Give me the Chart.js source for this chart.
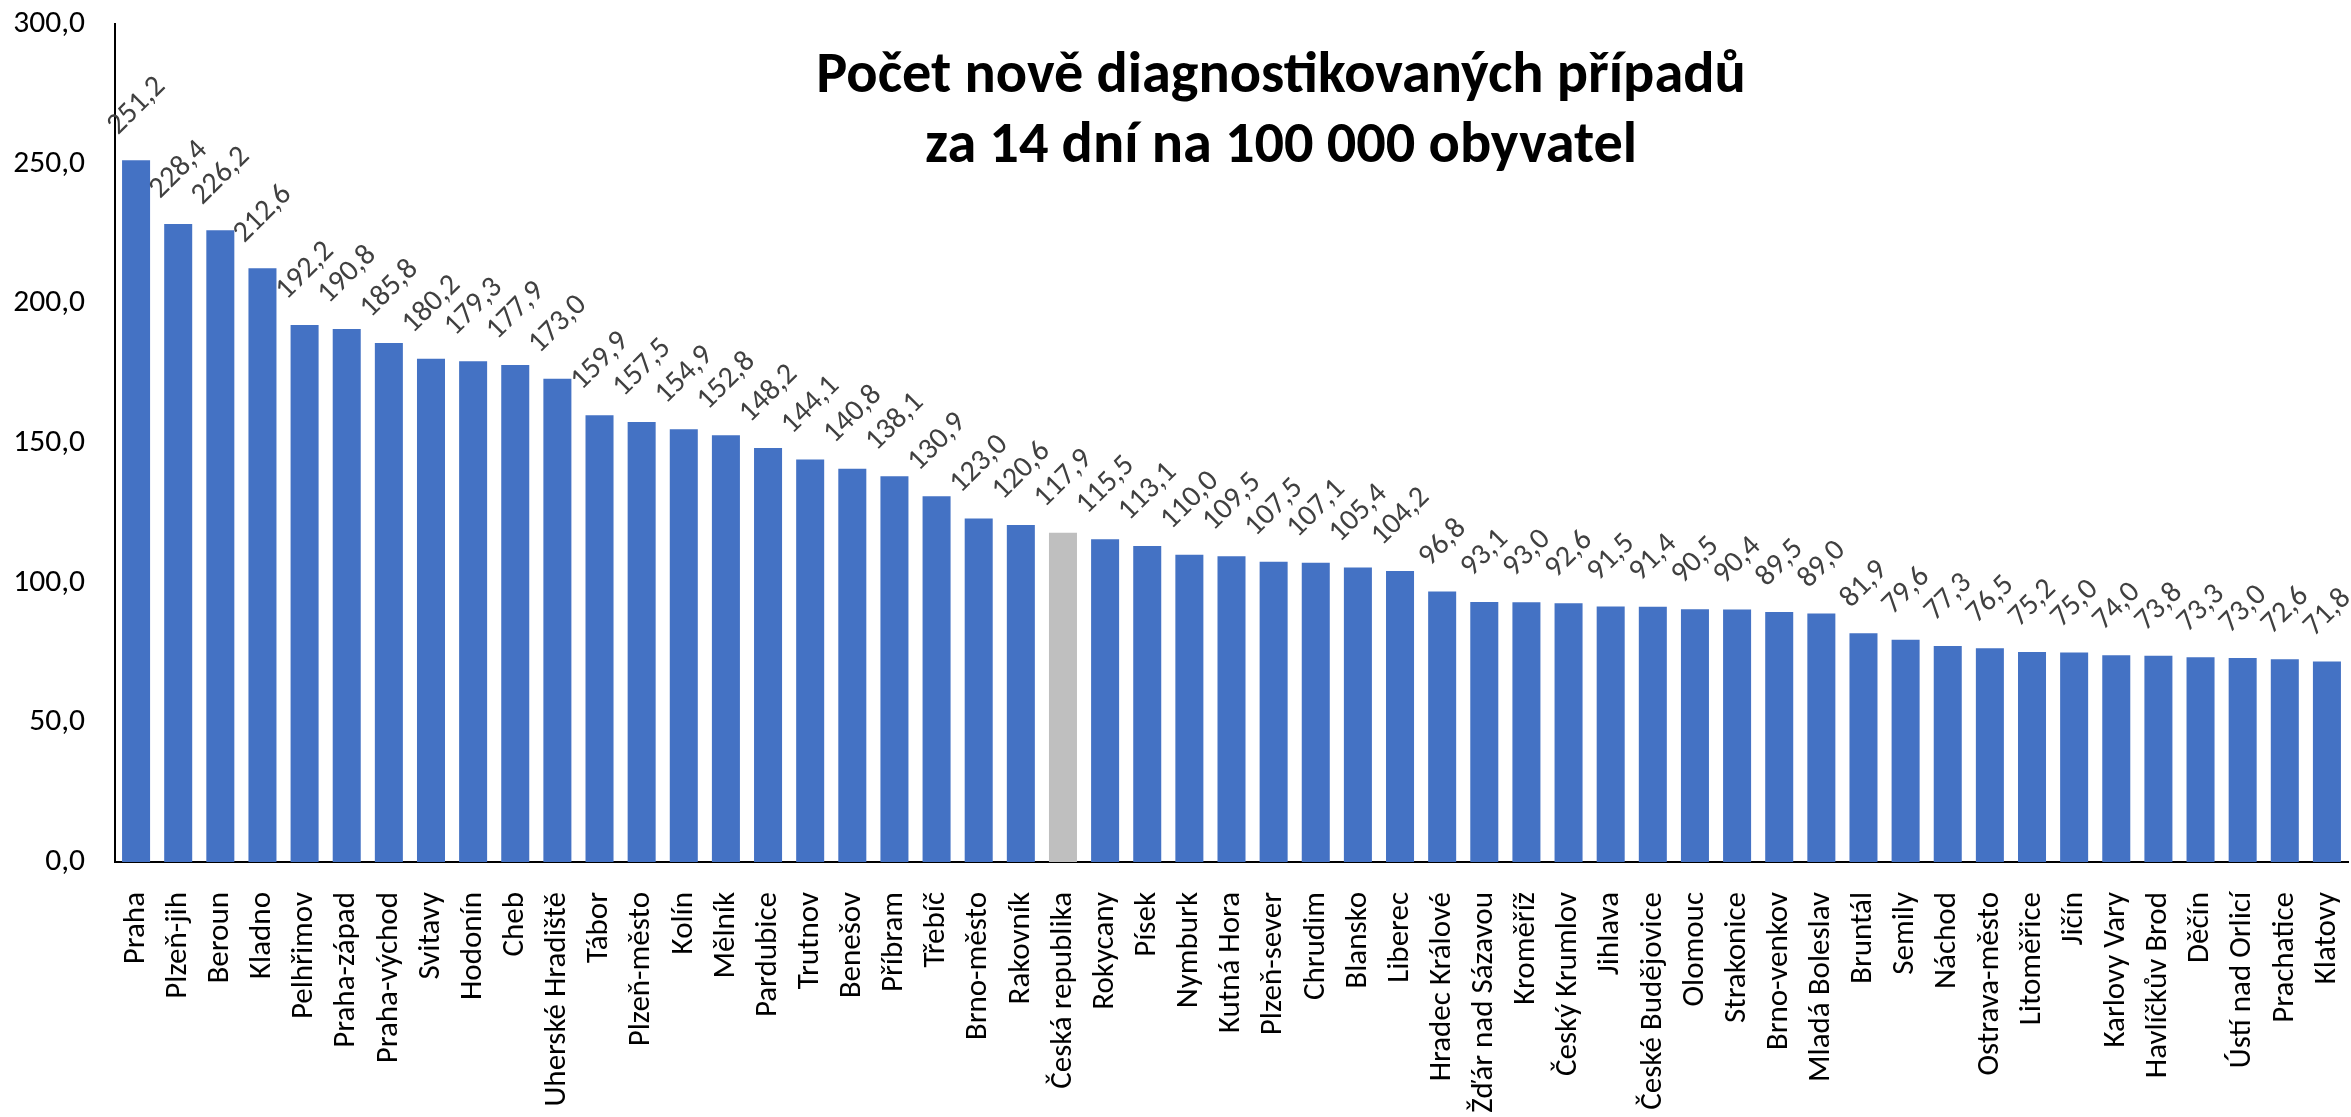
<!DOCTYPE html>
<html><head><meta charset="utf-8">
<script src="https://cdn.jsdelivr.net/npm/chart.js@4/dist/chart.umd.min.js"></script>
<style>html,body{margin:0;padding:0;background:#fff;overflow:hidden}#wrap{width:2351px;height:1117px;position:relative}</style>
</head><body><div id="wrap"><canvas id="c"></canvas></div>
<script>
const categories = ['Praha','Plzeň-jih','Beroun','Kladno','Pelhřimov','Praha-západ','Praha-východ','Svitavy','Hodonín','Cheb','Uherské Hradiště','Tábor','Plzeň-město','Kolín','Mělník','Pardubice','Trutnov','Benešov','Příbram','Třebíč','Brno-město','Rakovník','Česká republika','Rokycany','Písek','Nymburk','Kutná Hora','Plzeň-sever','Chrudim','Blansko','Liberec','Hradec Králové','Žďár nad Sázavou','Kroměříž','Český Krumlov','Jihlava','České Budějovice','Olomouc','Strakonice','Brno-venkov','Mladá Boleslav','Bruntál','Semily','Náchod','Ostrava-město','Litoměřice','Jičín','Karlovy Vary','Havlíčkův Brod','Děčín','Ústí nad Orlicí','Prachatice','Klatovy'];
const values = [251.2,228.4,226.2,212.6,192.2,190.8,185.8,180.2,179.3,177.9,173.0,159.9,157.5,154.9,152.8,148.2,144.1,140.8,138.1,130.9,123.0,120.6,117.9,115.5,113.1,110.0,109.5,107.5,107.1,105.4,104.2,96.8,93.1,93.0,92.6,91.5,91.4,90.5,90.4,89.5,89.0,81.9,79.6,77.3,76.5,75.2,75.0,74.0,73.8,73.3,73.0,72.6,71.8];
const highlightCategory = 'Česká republika';
const yTickValues = [0,50,100,150,200,250,300];
const titleLines = ['Počet nově diagnostikovaných případů','za 14 dní na 100 000 obyvatel'];

const BLUE = '#4472C4', GREY = '#BFBFBF';
const FONT = 'Carlito, Calibri, "Open Sans", sans-serif';
const fmt = v => Number(v).toFixed(1).replace('.', ',');

const dataLabels = {
  id: 'dataLabels',
  afterDatasetsDraw(chart) {
    const ctx = chart.ctx;
    const meta = chart.getDatasetMeta(0);
    ctx.save();
    ctx.font = '30px ' + FONT;
    ctx.fillStyle = '#404040';
    ctx.textAlign = 'center';
    ctx.textBaseline = 'middle';
    meta.data.forEach((bar, i) => {
      const t = fmt(values[i]);
      const w = ctx.measureText(t).width;
      const off = (w + 19) / (2 * Math.SQRT2) + 24;
      ctx.save();
      ctx.translate(bar.x, bar.y - off);
      ctx.rotate(-Math.PI / 4);
      ctx.fillText(t, 0, 1);
      ctx.restore();
    });
    ctx.restore();
  }
};

const titlePlugin = {
  id: 'titleText',
  afterDraw(chart) {
    const ctx = chart.ctx;
    ctx.save();
    ctx.font = 'bold 50px ' + FONT;
    const w0 = ctx.measureText(titleLines[0]).width;
    const size = 50 * 930 / w0;
    ctx.font = 'bold ' + size.toFixed(1) + 'px ' + FONT;
    ctx.fillStyle = '#000';
    ctx.textAlign = 'center';
    ctx.textBaseline = 'alphabetic';
    ctx.fillText(titleLines[0], 1281, 92);
    ctx.fillText(titleLines[1], 1281, 162);
    ctx.restore();
  }
};

new Chart(document.getElementById('c'), {
  type: 'bar',
  data: {
    labels: categories,
    datasets: [{
      data: values,
      backgroundColor: categories.map(c => c === highlightCategory ? GREY : BLUE),
      borderWidth: 0,
      barPercentage: 0.665,
      categoryPercentage: 1.0
    }]
  },
  options: {
    responsive: true,
    maintainAspectRatio: false,
    devicePixelRatio: 1,
    animation: false,
    layout: { padding: { top: 24, right: 3, left: 0, bottom: 0 } },
    plugins: { legend: { display: false }, title: { display: false }, tooltip: { enabled: false } },
    scales: {
      x: {
        grid: { display: false, drawTicks: false },
        border: { display: true, color: '#000', width: 2 },
        ticks: { autoSkip: false, minRotation: 90, maxRotation: 90, color: '#000', font: { family: FONT, size: 31 }, padding: 30 },
        afterFit(s) { s.height = 255; s.paddingTop = 0; s.paddingBottom = 0; s.paddingLeft = 0; s.paddingRight = 0; }
      },
      y: {
        min: 0, max: 300,
        afterBuildTicks(s) { s.ticks = yTickValues.map(v => ({ value: v })); },
        grid: { display: false, drawTicks: false },
        border: { display: true, color: '#000', width: 2 },
        ticks: { color: '#000', font: { family: FONT, size: 31.5 }, padding: 30, callback: v => fmt(v) },
        afterFit(s) { s.width = 115; s.paddingTop = 0; s.paddingBottom = 0; }
      }
    }
  },
  plugins: [dataLabels, titlePlugin]
});
</script>
</body></html>
